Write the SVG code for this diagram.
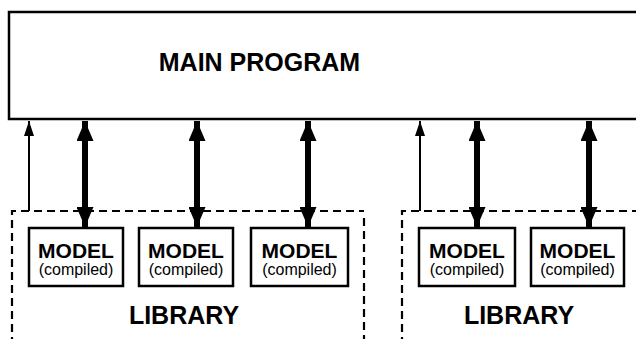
<svg xmlns="http://www.w3.org/2000/svg" width="636" height="339" viewBox="0 0 636 339">
<defs>
<style>
.box{fill:#fff;stroke:#000;stroke-width:2.5}
.lib{fill:none;stroke:#000;stroke-width:2.2;stroke-dasharray:8,5}
.thin{stroke:#000;stroke-width:2;fill:none}
.thick{stroke:#000;stroke-width:6;fill:none}
.big{font-family:"Liberation Sans",Arial,sans-serif;font-weight:bold;font-size:25px;text-anchor:middle}
.m1{font-family:"Liberation Sans",Arial,sans-serif;font-weight:bold;font-size:21px;text-anchor:middle}
.m2{font-family:"Liberation Sans",Arial,sans-serif;font-size:16px;text-anchor:middle}
</style>
<marker id="ht" viewBox="0 0 15 10" refX="15" refY="5" markerWidth="15" markerHeight="10" markerUnits="userSpaceOnUse" orient="auto"><path d="M0,0 L15,5 L0,10 Z" fill="#000"/></marker>
<marker id="hk" viewBox="0 0 20 17" refX="20" refY="8.5" markerWidth="20" markerHeight="17" markerUnits="userSpaceOnUse" orient="auto-start-reverse"><path d="M0,0 L20,8.5 L0,17 Z" fill="#000"/></marker>
</defs>
<g id="main-program">
<rect class="box" x="9" y="12" width="640" height="107"/>
<text class="big" x="259.5" y="71">MAIN PROGRAM</text>
</g>
<g id="library-1">
<path class="lib" d="M12,345 L12,211 L364,211"/>
<path class="lib" d="M364,218 L364,345"/>
<text class="big" x="184" y="324">LIBRARY</text>
</g>
<g id="library-2">
<path class="lib" d="M402,345 L402,211 L640,211"/>
<text class="big" x="519" y="324">LIBRARY</text>
</g>
<g id="model-1"><rect class="box" x="29" y="228" width="94" height="58"/><text class="m1" x="76" y="258">MODEL</text><text class="m2" x="76" y="275">(compiled)</text></g>
<g id="model-2"><rect class="box" x="139" y="228" width="94" height="58"/><text class="m1" x="186" y="258">MODEL</text><text class="m2" x="186" y="275">(compiled)</text></g>
<g id="model-3"><rect class="box" x="251" y="228" width="97" height="58"/><text class="m1" x="299.5" y="258">MODEL</text><text class="m2" x="299.5" y="275">(compiled)</text></g>
<g id="model-4"><rect class="box" x="419" y="228" width="96" height="58"/><text class="m1" x="467" y="258">MODEL</text><text class="m2" x="467" y="275">(compiled)</text></g>
<g id="model-5"><rect class="box" x="531" y="228" width="93" height="58"/><text class="m1" x="577.5" y="258">MODEL</text><text class="m2" x="577.5" y="275">(compiled)</text></g>
<g id="connectors">
<path class="thin" d="M29,211 L29,121" marker-end="url(#ht)"/>
<path class="thin" d="M420,211 L420,121" marker-end="url(#ht)"/>
<path class="thick" d="M85,121 L85,227" marker-start="url(#hk)" marker-end="url(#hk)"/>
<path class="thick" d="M197,121 L197,227" marker-start="url(#hk)" marker-end="url(#hk)"/>
<path class="thick" d="M308,121 L308,227" marker-start="url(#hk)" marker-end="url(#hk)"/>
<path class="thick" d="M477,121 L477,227" marker-start="url(#hk)" marker-end="url(#hk)"/>
<path class="thick" d="M589,121 L589,227" marker-start="url(#hk)" marker-end="url(#hk)"/>
</g>
</svg>
